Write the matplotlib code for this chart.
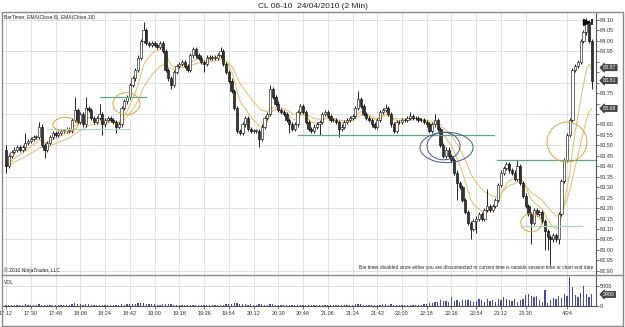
import matplotlib
matplotlib.use("Agg")
import matplotlib.pyplot as plt
from matplotlib.patches import Ellipse, Rectangle
from matplotlib.lines import Line2D
import matplotlib.transforms as mtransforms
import numpy as np
import pandas as pd

plt.rcParams['font.family'] = ['Liberation Sans', 'DejaVu Sans']

# CL 06-10, 2 minute bars starting 17:12
first_open = 83.48
closes = [
    83.40, 83.45, 83.47, 83.48, 83.49, 83.48, 83.49, 83.51, 83.52, 83.53,
    83.54, 83.54, 83.59, 83.50, 83.48, 83.51, 83.54, 83.56, 83.55, 83.56,
    83.57, 83.57, 83.58, 83.57, 83.62, 83.67, 83.61, 83.65, 83.60, 83.68,
    83.67, 83.63, 83.61, 83.63, 83.65, 83.60, 83.62, 83.63, 83.62, 83.61,
    83.59, 83.60, 83.68, 83.71, 83.73, 83.79, 83.82, 83.86, 83.92, 84.00,
    84.05, 83.99, 83.98, 83.99, 83.98, 83.97, 83.99, 83.95, 83.86, 83.82,
    83.79, 83.85, 83.88, 83.89, 83.90, 83.88, 83.86, 83.93, 83.96, 83.93,
    83.92, 83.90, 83.89, 83.92, 83.92, 83.92, 83.92, 83.93, 83.95, 83.89,
    83.85, 83.81, 83.76, 83.68, 83.57, 83.56, 83.60, 83.63, 83.58, 83.57,
    83.57, 83.57, 83.53, 83.59, 83.63, 83.65, 83.77, 83.73, 83.70, 83.67,
    83.66, 83.65, 83.62, 83.60, 83.58, 83.60, 83.66, 83.69, 83.66, 83.61,
    83.58, 83.57, 83.59, 83.60, 83.61, 83.65, 83.66, 83.64, 83.62, 83.62,
    83.61, 83.58, 83.59, 83.61, 83.62, 83.63, 83.64, 83.68, 83.72, 83.69,
    83.65, 83.63, 83.62, 83.60, 83.59, 83.62, 83.66, 83.67, 83.68, 83.65,
    83.60, 83.57, 83.61, 83.61, 83.62, 83.62, 83.63, 83.64, 83.63, 83.63,
    83.62, 83.62, 83.61, 83.60, 83.57, 83.60, 83.62, 83.58, 83.50, 83.45,
    83.48, 83.45, 83.43, 83.37, 83.32, 83.30, 83.24, 83.18, 83.13, 83.10,
    83.14, 83.15, 83.17, 83.15, 83.19, 83.21, 83.19, 83.21, 83.24, 83.31,
    83.37, 83.39, 83.41, 83.38, 83.37, 83.34, 83.40, 83.32, 83.26, 83.21,
    83.17, 83.13, 83.19, 83.17, 83.18, 83.14, 83.09, 83.06, 83.05, 83.07,
    83.05, 83.17, 83.33, 83.43, 83.55, 83.62, 83.86, 83.88, 83.90, 84.00,
    84.04, 84.09, 84.00, 83.81,
]
# wick length beyond the body, in cents
wick_up = [
    2, 1, 1, 1, 1, 1, 1, 5, 1, 1,
    1, 1, 2, 1, 1, 1, 1, 1, 1, 1,
    1, 1, 1, 1, 1, 6, 1, 1, 1, 5,
    1, 1, 1, 1, 5, 1, 1, 1, 1, 1,
    1, 1, 1, 1, 1, 1, 1, 1, 1, 1,
    4, 1, 1, 1, 1, 1, 1, 1, 1, 1,
    1, 1, 1, 1, 1, 1, 1, 1, 1, 1,
    1, 1, 1, 1, 1, 1, 1, 1, 2, 1,
    1, 1, 1, 1, 1, 1, 1, 1, 1, 1,
    1, 1, 1, 1, 1, 1, 2, 1, 1, 1,
    1, 1, 1, 1, 1, 1, 1, 1, 1, 1,
    1, 1, 1, 1, 1, 1, 1, 1, 1, 1,
    1, 1, 1, 1, 1, 1, 1, 1, 4, 1,
    1, 1, 1, 1, 1, 1, 1, 1, 2, 1,
    1, 1, 1, 1, 1, 1, 1, 2, 1, 1,
    1, 1, 1, 1, 1, 1, 3, 1, 1, 1,
    1, 1, 1, 1, 1, 1, 1, 1, 1, 1,
    1, 1, 1, 1, 1, 8, 1, 1, 1, 1,
    1, 1, 1, 1, 1, 1, 3, 1, 1, 1,
    1, 1, 1, 1, 1, 1, 1, 1, 1, 1,
    1, 1, 1, 1, 1, 1, 1, 1, 1, 1,
    1, 2, 1, 1,
]
wick_dn = [
    3, 1, 1, 1, 1, 1, 1, 1, 1, 1,
    1, 1, 1, 1, 4, 1, 1, 1, 1, 1,
    1, 1, 1, 1, 1, 1, 1, 1, 1, 1,
    1, 1, 1, 1, 1, 5, 1, 1, 1, 1,
    3, 1, 1, 1, 1, 1, 1, 1, 1, 1,
    1, 1, 1, 1, 1, 1, 1, 1, 1, 1,
    2, 1, 1, 1, 1, 1, 1, 1, 1, 1,
    1, 1, 4, 1, 1, 1, 1, 1, 1, 1,
    1, 1, 1, 1, 1, 1, 1, 1, 1, 1,
    1, 1, 4, 1, 1, 1, 1, 1, 1, 1,
    1, 1, 1, 4, 1, 1, 1, 1, 1, 1,
    1, 1, 1, 1, 5, 1, 1, 1, 1, 1,
    1, 4, 1, 1, 1, 1, 1, 1, 1, 1,
    1, 1, 1, 1, 1, 1, 1, 1, 1, 1,
    1, 1, 1, 1, 1, 1, 1, 1, 1, 1,
    1, 1, 1, 1, 1, 1, 1, 1, 1, 1,
    1, 1, 1, 1, 8, 1, 1, 1, 1, 5,
    1, 6, 1, 1, 1, 1, 1, 1, 1, 1,
    1, 1, 1, 1, 1, 1, 1, 1, 1, 1,
    1, 10, 1, 1, 1, 1, 9, 6, 12, 1,
    1, 2, 1, 1, 1, 1, 1, 1, 1, 1,
    1, 1, 1, 4,
]
volumes = [
    350, 300, 250, 300, 250, 250, 300, 400, 250, 300,
    250, 300, 450, 350, 300, 250, 300, 250, 300, 250,
    250, 300, 250, 300, 500, 700, 450, 400, 350, 500,
    400, 300, 300, 250, 350, 300, 250, 250, 300, 250,
    300, 250, 400, 350, 400, 450, 500, 600, 700, 800,
    800, 600, 500, 400, 450, 350, 300, 400, 500, 450,
    400, 350, 300, 300, 250, 300, 300, 350, 300, 250,
    250, 300, 250, 250, 250, 250, 250, 300, 300, 350,
    400, 450, 600, 700, 650, 500, 450, 400, 350, 400,
    350, 300, 450, 400, 350, 300, 550, 400, 350, 300,
    300, 250, 250, 300, 250, 300, 350, 300, 250, 250,
    250, 300, 250, 250, 300, 250, 300, 250, 250, 250,
    250, 300, 250, 250, 250, 300, 350, 450, 500, 400,
    350, 300, 250, 250, 300, 300, 350, 400, 450, 350,
    400, 350, 300, 300, 250, 300, 250, 350, 300, 300,
    300, 350, 400, 600, 800, 700, 900, 1000, 1500, 1200,
    1200, 1100, 2300, 1200, 1500, 900, 1400, 1600, 1500, 1300,
    1000, 1200, 1800, 1500, 1100, 1700, 1300, 1600, 1000, 1800,
    1400, 2200, 1800, 1600, 1200, 1800, 1000, 1400, 1700, 2800,
    3100, 2600, 2200, 2500, 1500, 1100, 4000, 800, 1400, 2100,
    1800, 2400, 2000, 3000, 2600, 7200, 4700, 2800, 2300, 3200,
    5000, 3000, 2300, 2900,
]
time_labels = ['17:12', '17:30', '17:48', '18:06', '18:24', '18:42', '19:00', '19:18',
               '19:36', '19:54', '20:12', '20:30', '20:48', '21:06', '21:24', '21:42',
               '22:00', '22:18', '22:36', '22:54', '23:12', '23:30', '4/24']
time_label_bars = [0, 9, 18, 27, 36, 45, 54, 63, 72, 81, 90, 99, 108, 117, 126, 135,
                   144, 153, 162, 171, 180, 189, 204]

# drawn objects: (start bar, end bar, price)
hlines = [(15, 45, 83.58, '#a8d8c0'), (34, 51, 83.73, '#5fa887'),
          (106, 177.5, 83.55, '#5fa887'), (178.5, 215, 83.43, '#5fa887'),
          (187.6, 209.5, 83.115, '#a8d8c0')]
# (center bar, center price, width in bars, height in price, colour)
ellipses = [(21.6, 83.60, 9.1, 0.067, '#d9a441'), (43.8, 83.70, 9.8, 0.105, '#d9a441'),
            (160.2, 83.49, 19.3, 0.145, '#4a5580'), (159.1, 83.497, 12.0, 0.132, '#4a5580'),
            (204.0, 83.516, 14.5, 0.191, '#d9a441'), (191.0, 83.13, 7.6, 0.086, '#d9a441')]

closes = np.array(closes)
opens = np.concatenate([[first_open], closes[:-1]])
highs = np.maximum(opens, closes) + np.array(wick_up) / 100
lows = np.minimum(opens, closes) - np.array(wick_dn) / 100
idx = np.arange(len(closes))
ema8 = pd.Series(closes).ewm(span=8, adjust=False).mean().values
ema18 = pd.Series(closes).ewm(span=18, adjust=False).mean().values

W, H = 625, 327
fig = plt.figure(figsize=(W / 100, H / 100), dpi=100)
fig.patch.set_facecolor('white')
ax = fig.add_axes([3 / W, 1 - 274 / H, 593 / W, 262 / H])
axv = fig.add_axes([3 / W, 1 - 306 / H, 593 / W, 31 / H], sharex=ax)

grid_c = '#dcdcdc'
for b in time_label_bars:
    ax.axvline(b, color=grid_c, lw=0.6, zorder=0)
    axv.axvline(b, color=grid_c, lw=0.6, zorder=0)
for p in np.arange(82.90, 84.2, 0.15):
    ax.axhline(p, color=grid_c, lw=0.6, zorder=0)
axv.axhline(5000, color=grid_c, lw=0.6, zorder=0)

# candles
up = closes >= opens
ax.vlines(idx, lows, highs, color='black', lw=0.6, zorder=3)
body_h = np.maximum(np.abs(closes - opens), 0.003)
ax.bar(idx, body_h, bottom=np.minimum(opens, closes), width=0.75,
       color=np.where(up, 'white', '#333333'), edgecolor='black', lw=0.4, zorder=4)

ax.plot(idx, ema8, color='#e4ba72', lw=0.7, zorder=2)
ax.plot(idx, ema18, color='#e4ba72', lw=0.7, zorder=2)

for x0, x1, p, c in hlines:
    ax.plot([x0, x1], [p, p], color=c, lw=0.9, zorder=5, clip_on=True)
for cx, cy, w, h, c in ellipses:
    ax.add_patch(Ellipse((cx, cy), w, h, fill=False, edgecolor=c, lw=0.7, zorder=6))

ax.plot([210.8], [84.09], marker='>', ms=5, color='black', zorder=7)
ax.plot([213.2], [84.09], marker='|', ms=5, mew=1.2, color='black', zorder=7)

ax.set_xlim(-1.1, 214.55)
ax.set_ylim(82.885, 84.138)
ax.yaxis.tick_right()

# current value markers: EMA(8), close, EMA(18), kept at least one label apart
marks = sorted([ema8[-1], closes[-1], ema18[-1]], reverse=True)
for k in range(1, len(marks)):
    if marks[k - 1] - marks[k] < 0.06:
        marks[k] = marks[k - 1] - 0.06

ticks = np.round(np.arange(82.90, 84.101, 0.05), 2)
ax.set_yticks(ticks)
ax.set_yticklabels(['' if min(abs(t - m) for m in marks) < 0.035 else '%.2f' % t
                    for t in ticks])
ax.tick_params(axis='y', labelsize=4, length=2, width=0.5, pad=1, colors='#333333')
ax.tick_params(axis='x', bottom=False, labelbottom=False)
for s in ['left', 'top', 'bottom']:
    ax.spines[s].set_visible(False)
ax.spines['right'].set_color('#555555')
ax.spines['right'].set_linewidth(0.8)

trans = mtransforms.blended_transform_factory(ax.transAxes, ax.transData)
for val in marks:
    ax.text(1.012, val, '%.2f' % val, transform=trans, fontsize=3.8, color='white',
            va='center', ha='left', zorder=10, clip_on=False,
            bbox=dict(boxstyle='larrow,pad=0.12', fc='#474747', ec='#222222', lw=0.4))

# volume
axv.bar(idx, volumes, width=0.45, color='#4b4b96', zorder=3)
axv.set_ylim(0, 7750)
axv.yaxis.tick_right()
axv.set_yticks([0, 5000])
axv.tick_params(axis='y', labelsize=4, length=2, width=0.5, pad=1, colors='#333333')
axv.set_xticks(time_label_bars)
axv.set_xticklabels(time_labels)
axv.tick_params(axis='x', labelsize=4, length=2, width=0.5, pad=1.5, colors='#333333')
for s in ['left', 'top']:
    axv.spines[s].set_visible(False)
for s in ['right', 'bottom']:
    axv.spines[s].set_color('#555555')
    axv.spines[s].set_linewidth(0.8)

transv = mtransforms.blended_transform_factory(axv.transAxes, axv.transData)
axv.text(1.012, volumes[-1], str(volumes[-1]), transform=transv, fontsize=3.8,
         color='white', va='center', ha='left', zorder=10, clip_on=False,
         bbox=dict(boxstyle='larrow,pad=0.12', fc='#474747', ec='#222222', lw=0.4))

# frame
fig.add_artist(Rectangle((2 / W, 1 - 326 / H), 621 / W, 314 / H, transform=fig.transFigure,
                         fill=False, edgecolor='#8a8a8a', lw=1))
fig.add_artist(Line2D([2 / W, 623 / W], [1 - 274.5 / H, 1 - 274.5 / H],
                      transform=fig.transFigure, color='#8a8a8a', lw=1))

fig.text(313 / W, 1 - 7 / H, 'CL 06-10  24/04/2010 (2 Min)', ha='center', va='center',
         fontsize=6, color='#222222')
fig.text(4 / W, 1 - 18 / H, 'BarTimer, EMA(Close,8), EMA(Close,18)', ha='left', va='center',
         fontsize=3.6, color='#222222')
fig.text(4 / W, 1 - 270 / H, '\u00a9 2010 NinjaTrader, LLC', ha='left', va='center',
         fontsize=3.6, color='#222222')
fig.text(593 / W, 1 - 267 / H,
         'Bar timer disabled since either you are disconnected or current time is outside '
         'session time or chart end date', ha='right', va='center', fontsize=3.4, color='#222222')
fig.text(4 / W, 1 - 282 / H, 'VOL', ha='left', va='center', fontsize=3.6, color='#222222')

fig.savefig('out.png', dpi=100)
